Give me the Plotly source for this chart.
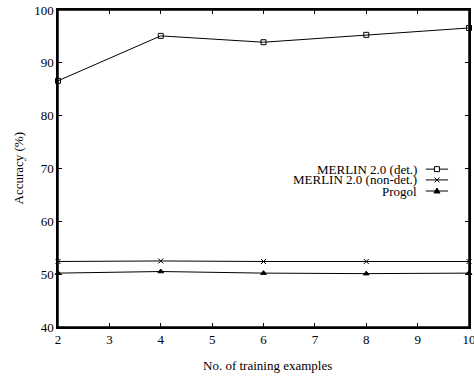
import plotly.graph_objects as go

# Data
train_examples = [2, 4, 6, 8, 10]
merlin_det = [86.6, 95.1, 93.9, 95.3, 96.6]
merlin_nondet = [52.4, 52.5, 52.4, 52.4, 52.4]
progol = [50.2, 50.5, 50.2, 50.1, 50.2]

series_names = ["MERLIN 2.0 (det.)", "MERLIN 2.0 (non-det.)", "Progol"]
series_values = [merlin_det, merlin_nondet, progol]
series_symbols = ["square-open", "x-thin-open", "triangle-up"]
series_sizes = [5, 5, 5]

x_ticks = [2, 3, 4, 5, 6, 7, 8, 9, 10]
y_ticks = [40, 50, 60, 70, 80, 90, 100]
x_title = "No. of training examples"
y_title = "Accuracy (%)"

FONT = "Liberation Serif, Times New Roman, serif"
FS = 13

fig = go.Figure()
for name, vals, sym, sz in zip(series_names, series_values, series_symbols, series_sizes):
    fig.add_trace(go.Scatter(
        x=train_examples, y=vals, name=name, mode="lines+markers",
        line=dict(color="black", width=1),
        marker=dict(symbol=sym, size=sz, color="black", line=dict(color="black", width=1)),
        showlegend=False, cliponaxis=False,
    ))

# Custom gnuplot-style key: text on the left, line sample + marker glyph on the right
leg_y = [0.498, 0.464, 0.429]
glyph_paths = [
    "M-2.5,-2.5L2.5,-2.5L2.5,2.5L-2.5,2.5Z",
    "M-2.5,-2.5L2.5,2.5M-2.5,2.5L2.5,-2.5",
    "M-3,-2L3,-2L0,3Z",
]
glyph_fill = ["white", None, "black"]
for name, path, fill, ly in zip(series_names, glyph_paths, glyph_fill, leg_y):
    fig.add_shape(type="line", xref="paper", yref="paper", x0=0.895, x1=0.949, y0=ly, y1=ly,
                  line=dict(color="black", width=1))
    shp = dict(type="path", xref="paper", yref="paper", xsizemode="pixel", ysizemode="pixel",
               xanchor=0.922, yanchor=ly, path=path, line=dict(color="black", width=1))
    if fill:
        shp["fillcolor"] = fill
    fig.add_shape(**shp)
    fig.add_annotation(
        x=0.878, y=ly, xref="paper", yref="paper", text=name, showarrow=False,
        xanchor="right", yanchor="middle", font=dict(family=FONT, size=FS, color="black"),
    )

# Axis titles placed as in the reference
fig.add_annotation(x=0.51, y=-0.12, xref="paper", yref="paper", text=x_title, showarrow=False,
                   xanchor="center", yanchor="middle", font=dict(family=FONT, size=FS, color="black"))
fig.add_annotation(x=-0.0973, y=0.5, xref="paper", yref="paper", text=y_title, showarrow=False,
                   textangle=-90, xanchor="center", yanchor="middle",
                   font=dict(family=FONT, size=FS, color="black"))

# Plot frame
fig.add_shape(type="rect", xref="paper", yref="paper", x0=0, x1=1, y0=0, y1=1,
              line=dict(color="black", width=1.5), layer="above")

axis_common = dict(
    showline=True, linecolor="black", linewidth=1.5, mirror="ticks",
    ticks="inside", ticklen=4, tickcolor="black", tickwidth=1,
    showgrid=False, zeroline=False, automargin=False, ticklabeloverflow="allow",
    tickfont=dict(family=FONT, size=FS, color="black"),
)

fig.update_layout(
    width=474, height=379,
    margin=dict(l=58, r=5, t=10, b=52),
    paper_bgcolor="white", plot_bgcolor="white",
    font=dict(family=FONT, size=FS, color="black"),
    xaxis=dict(range=[2, 10], tickvals=x_ticks, ticktext=[str(v) for v in x_ticks], **axis_common),
    yaxis=dict(range=[40, 100], tickvals=y_ticks, ticktext=[str(v) for v in y_ticks], **axis_common),
    showlegend=False,
)

fig.write_html(
    "out.html",
    config={"displayModeBar": False},
    post_script="document.body.style.margin='0';document.body.style.overflow='hidden';",
)
